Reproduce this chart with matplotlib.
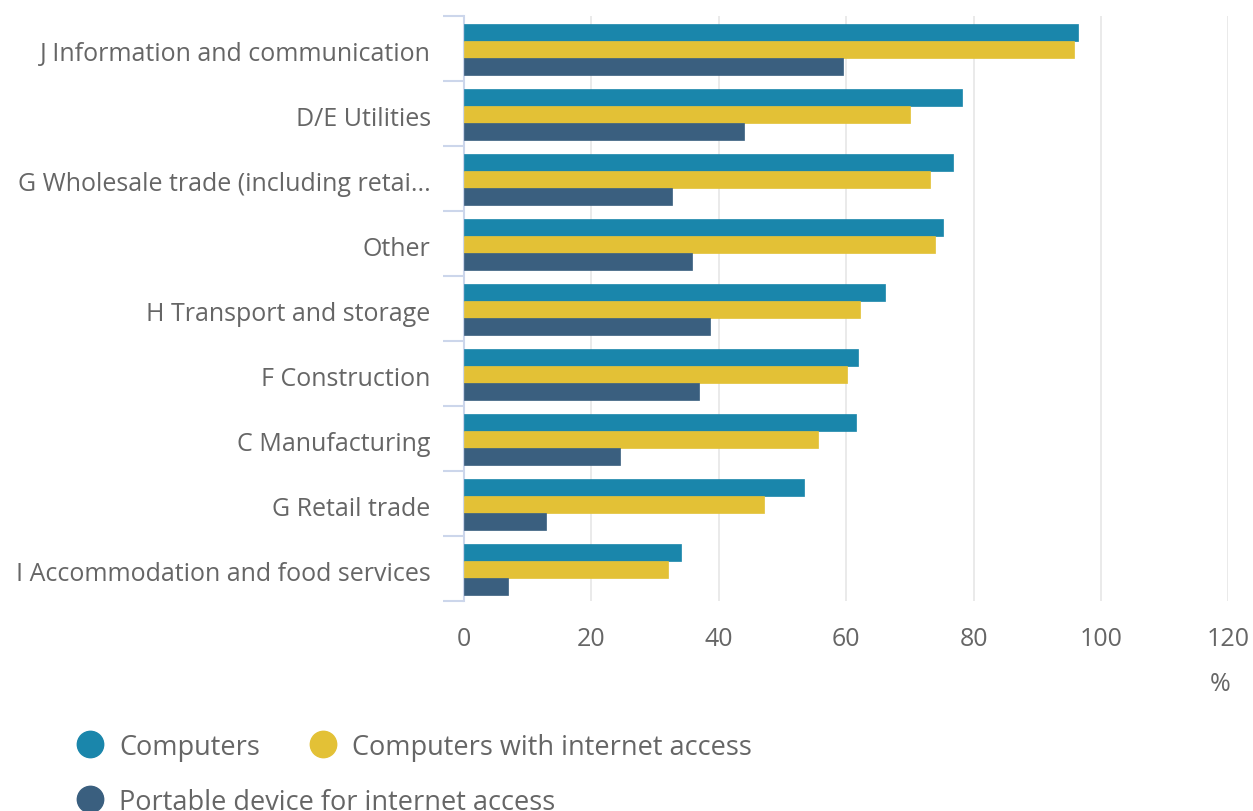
import numpy as np
import matplotlib.pyplot as plt
from matplotlib.lines import Line2D
import matplotlib.transforms as mtransforms

plt.rcParams['font.family'] = ['Open Sans', 'DejaVu Sans']

# Dados
categories = [
    "J Information and communication",
    "D/E Utilities",
    "G Wholesale trade (including retai...",
    "Other",
    "H Transport and storage",
    "F Construction",
    "C Manufacturing",
    "G Retail trade",
    "I Accommodation and food services",
]
computers = [96.4, 78.2, 76.8, 75.2, 66.1, 61.9, 61.5, 53.4, 34.1]
computers_internet = [95.8, 70.0, 73.2, 73.9, 62.2, 60.1, 55.6, 47.1, 32.0]
portable = [59.5, 44.0, 32.7, 35.8, 38.6, 36.9, 24.5, 12.9, 6.9]

series_names = ["Computers", "Computers with internet access",
                "Portable device for internet access"]
colors = ["#1a86ab", "#e3c136", "#3a5f7f"]
xticks = [0, 20, 40, 60, 80, 100, 120]

text_color = "#666666"
axis_color = "#ccd6eb"

fig = plt.figure(figsize=(12.53, 8.12), dpi=100)
ax = fig.add_axes([464 / 1253, 1 - 602 / 812, 764.4 / 1253, 585 / 812])

y = np.arange(len(categories))
h = 0.262
for k, vals in enumerate([computers, computers_internet, portable]):
    ax.barh(y + (k - 1) * h + 0.015, vals, height=h, color=colors[k],
            edgecolor=colors[k], linewidth=0.5, zorder=3)

ax.set_xlim(0, 120)
ax.set_ylim(len(categories) - 0.5, -0.5)

ax.set_xticks(xticks)
ax.set_xticklabels([str(t) for t in xticks])
ax.tick_params(axis='x', length=0, pad=18, labelsize=18, labelcolor=text_color)
ax.grid(axis='x', color="#e6e6e6", linewidth=1.2, zorder=0)

ax.set_yticks(y)
ax.set_yticklabels(categories)
ax.tick_params(axis='y', which='major', length=0, pad=24, labelsize=18,
               labelcolor=text_color)
# descer um pouco os rótulos
shift = mtransforms.ScaledTranslation(0, -2 / 100, fig.dpi_scale_trans)
for lbl in ax.get_yticklabels():
    lbl.set_transform(lbl.get_transform() + shift)
ax.set_yticks(np.arange(len(categories) + 1) - 0.5, minor=True)
ax.tick_params(axis='y', which='minor', length=15, width=1.5, color=axis_color)

for s in ['top', 'right', 'bottom']:
    ax.spines[s].set_visible(False)
ax.spines['left'].set_color(axis_color)
ax.spines['left'].set_linewidth(1.5)

fig.text(1220 / 1253, 1 - 685 / 812, "%", fontsize=18, color=text_color,
         ha='center', va='center')

# Legenda manual
legend_pos = [(90, 745), (323, 745), (90, 800)]
for (px, py), name, c in zip(legend_pos, series_names, colors):
    fig.add_artist(Line2D([px / 1253], [1 - py / 812], marker='o',
                          markersize=19, color=c, linestyle='none',
                          transform=fig.transFigure))
    fig.text((px + 29) / 1253, 1 - (py + 3) / 812, name, fontsize=19.5,
             color=text_color, ha='left', va='center')

fig.savefig("out.png", dpi=100)
